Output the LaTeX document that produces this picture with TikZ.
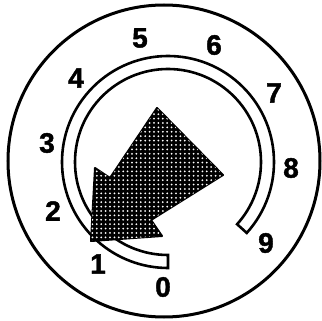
\documentclass[tikz,border=0pt]{standalone}
\usepackage{fontspec}
\setmainfont{Liberation Sans}
\newfontfamily\digitfont{Liberation Sans Bold}[FakeBold=1.5]
\usetikzlibrary{patterns.meta}
\begin{document}
\begin{tikzpicture}[x=1pt,y=-1pt,
  digit/.style={font=\digitfont\fontsize{28}{28}\selectfont, inner sep=0pt},
  rim/.style={line width=3pt},
  slot/.style={line width=2.6pt, fill=white},
  pointer/.style={line width=2pt, line join=round, fill=black,
     postaction={pattern={Dots[radius=1pt,distance=4.4pt]}, pattern color=white}}]
\useasboundingbox (0,0) rectangle (322,321);
\fill[white] (0,0) rectangle (322,321);
\coordinate (c) at (164,161);
\coordinate (s) at (168,162);
\draw[rim] (c) circle[radius=156];
% slot arc (y axis points down, so angles run clockwise)
\draw[slot] ([shift={(42:106)}]s) arc[start angle=42, end angle=-270, radius=106]
  -- ([shift={(-270:93)}]s) arc[start angle=-270, end angle=42, radius=93] -- cycle;
% pointer arrow
\coordinate (b1) at (157,108);
\coordinate (b2) at (223,175);
\coordinate (n2) at (151,220);
\coordinate (w2) at (162,236);
\coordinate (tip) at (91,241);
\coordinate (w1) at (95,168);
\coordinate (n1) at (110,178);
\draw[pointer] (b1) -- (b2) -- (n2) -- (w2) -- (tip) -- (w1) -- (n1) -- cycle;
% digits
\node[digit] (d0) at (163,287) {0};
\node[digit] (d1) at (98,264) {1};
\node[digit] (d2) at (53,211) {2};
\node[digit] (d3) at (47,143) {3};
\node[digit] (d4) at (76,78) {4};
\node[digit] (d5) at (140,38) {5};
\node[digit] (d6) at (214,45) {6};
\node[digit] (d7) at (274,93) {7};
\node[digit] (d8) at (291,168) {8};
\node[digit] (d9) at (266,243) {9};
\end{tikzpicture}
\end{document}
